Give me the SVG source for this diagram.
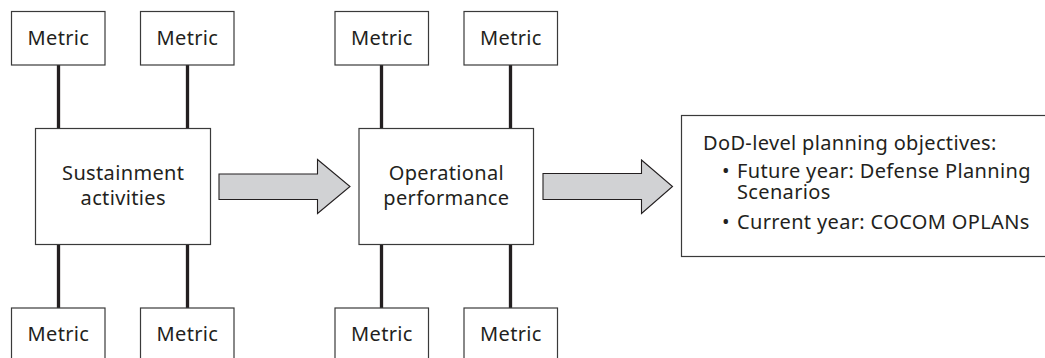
<svg xmlns="http://www.w3.org/2000/svg" width="1045" height="358" viewBox="0 0 1045 358">
<style>
.box{fill:#fff;stroke:#3a3a3a;stroke-width:1.2}
.t{font-family:"Noto Sans","Open Sans","Liberation Sans",sans-serif;font-size:20px;letter-spacing:0.35px;fill:#231f20}
.c{text-anchor:middle}
.link{stroke:#231f20;stroke-width:3.3;fill:none}
.arrow{fill:#d1d2d4;stroke:#231f20;stroke-width:1.1;stroke-linejoin:miter}
</style>
<rect width="1045" height="358" fill="#fff"/>
<g id="connectors">
<line class="link" x1="58.5" y1="65" x2="58.5" y2="128.5"/>
<line class="link" x1="187.5" y1="65" x2="187.5" y2="128.5"/>
<line class="link" x1="58.5" y1="244.5" x2="58.5" y2="308"/>
<line class="link" x1="187.5" y1="244.5" x2="187.5" y2="308"/>
<line class="link" x1="381.5" y1="65" x2="381.5" y2="128.5"/>
<line class="link" x1="510.5" y1="65" x2="510.5" y2="128.5"/>
<line class="link" x1="381.5" y1="244.5" x2="381.5" y2="308"/>
<line class="link" x1="510.5" y1="244.5" x2="510.5" y2="308"/>
<polygon id="arrow1" class="arrow" points="219,174 317.5,174 317.5,159.5 350,186.5 317.5,213.5 317.5,199.5 219,199.5"/>
<polygon id="arrow2" class="arrow" points="543,173.5 641.5,173.5 641.5,160 672.5,186.5 641.5,213.5 641.5,199.5 543,199.5"/>
</g>
<g id="metric-tl"><rect class="box" x="11.5" y="11.5" width="93.5" height="53.5"/><text class="t c" x="58.4" y="45">Metric</text></g>
<g id="metric-tl2"><rect class="box" x="140.5" y="11.5" width="93.5" height="53.5"/><text class="t c" x="187.4" y="45">Metric</text></g>
<g id="metric-tr"><rect class="box" x="335" y="11.5" width="93.5" height="53.5"/><text class="t c" x="381.9" y="45">Metric</text></g>
<g id="metric-tr2"><rect class="box" x="464" y="11.5" width="93.5" height="53.5"/><text class="t c" x="510.9" y="45">Metric</text></g>
<g id="metric-bl"><rect class="box" x="11.5" y="308" width="93.5" height="54"/><text class="t c" x="58.4" y="340.5">Metric</text></g>
<g id="metric-bl2"><rect class="box" x="140.5" y="308" width="93.5" height="54"/><text class="t c" x="187.4" y="340.5">Metric</text></g>
<g id="metric-br"><rect class="box" x="335" y="308" width="93.5" height="54"/><text class="t c" x="381.9" y="340.5">Metric</text></g>
<g id="metric-br2"><rect class="box" x="464" y="308" width="93.5" height="54"/><text class="t c" x="510.9" y="340.5">Metric</text></g>
<g id="sustainment"><rect class="box" x="35.5" y="128.5" width="175" height="116"/><text class="t c" x="123.2" y="180">Sustainment</text><text class="t c" x="123.2" y="204.5">activities</text></g>
<g id="operational"><rect class="box" x="359" y="128.5" width="174.5" height="116"/><text class="t c" x="446.4" y="180">Operational</text><text class="t c" x="446.4" y="204.5">performance</text></g>
<g id="dod"><rect class="box" x="681.5" y="115.5" width="366" height="141"/>
<text class="t" x="703" y="149.5">DoD-level planning objectives:</text>
<text class="t" x="722" y="177.5">•</text><text class="t" x="737" y="177.5">Future year: Defense Planning</text>
<text class="t" x="737" y="198.5">Scenarios</text>
<text class="t" x="722" y="228.5">•</text><text class="t" x="737" y="228.5">Current year: COCOM OPLANs</text>
</g>
</svg>
